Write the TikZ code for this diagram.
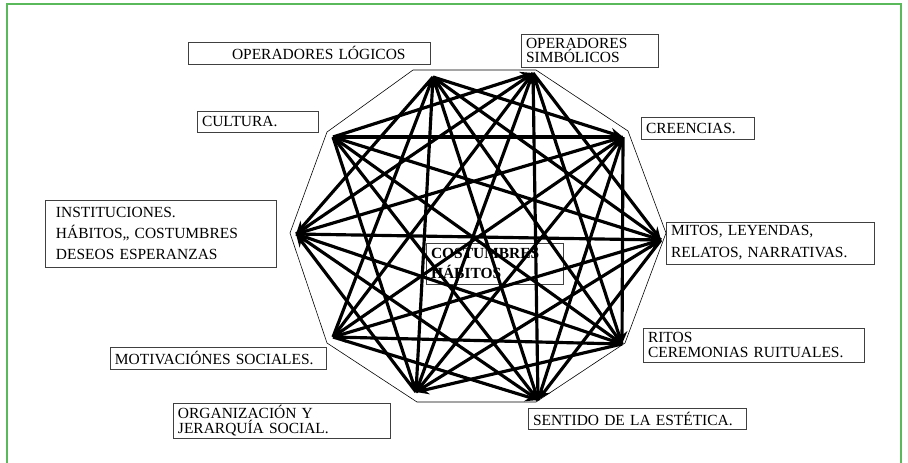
\documentclass[tikz,border=0pt]{standalone}
\usepackage{fontspec}
\setmainfont{Liberation Serif}
\usetikzlibrary{arrows.meta}
\definecolor{framegreen}{RGB}{90,185,90}

\begin{document}
\begin{tikzpicture}[x=0.03cm, y=-0.03cm,
      box/.style={draw=black!75, line width=0.7pt, inner xsep=0.15cm, inner ysep=0pt, align=left, font=\fontsize{13.2}{12}\selectfont},
      link/.style={line width=2.7pt, -{Stealth[length=11pt,width=9pt]}}]

            \useasboundingbox (0,0) rectangle (908,462);
            \draw[framegreen, line width=1.6pt] (7,470) -- (7,4) -- (901,4) -- (901,470); % the green page frame

            % the boxes with the texts
            \node[box, text width=6.96cm, minimum height=0.66cm] (oplogbox) at (309,53) {\hspace*{1.17cm}OPERADORES LÓGICOS};
            \node[box, text width=3.81cm, minimum height=0.99cm, font=\fontsize{13.2}{11}\selectfont] (opsimbox) at (589.5,50.5) {OPERADORES\\SIMBÓLICOS};
            \node[box, text width=3.33cm, minimum height=0.63cm] (cultbox) at (257.5,121.5) {CULTURA.};
            \node[box, text width=3.09cm, minimum height=0.66cm] (creebox) at (697.5,128) {CREENCIAS.};
            \node[box, text width=6.27cm, inner xsep=0.33cm, minimum height=2.01cm, font=\fontsize{13.2}{17.9}\selectfont] (instbox) at (160.5,233.5) {INSTITUCIONES.\\HÁBITOS,, COSTUMBRES\\DESEOS ESPERANZAS};
            \node[box, text width=3.81cm, minimum height=1.23cm, font=\fontsize{13.2}{17}\selectfont\bfseries] (costbox) at (494.5,263.5) {COSTUMBRES\\HÁBITOS};
            \node[box, text width=5.94cm, minimum height=1.26cm, font=\fontsize{13.2}{18.7}\selectfont] (mitobox) at (770,243) {MITOS, LEYENDAS,\\RELATOS, NARRATIVAS.};
            \node[box, text width=6.33cm, minimum height=1.02cm, font=\fontsize{13.2}{12.5}\selectfont] (ritobox) at (753.5,345) {RITOS\\CEREMONIAS RUITUALES.};
            \node[box, text width=6.18cm, minimum height=0.66cm] (motibox) at (218,358) {MOTIVACIÓNES SOCIALES.};
            \node[box, text width=6.21cm, minimum height=1.05cm, font=\fontsize{13.2}{11}\selectfont] (orgabox) at (281.5,420.5) {ORGANIZACIÓN Y\\JERARQUÍA SOCIAL.};
            \node[box, text width=6.24cm, minimum height=0.63cm] (sentbox) at (637,418.5) {SENTIDO DE LA ESTÉTICA.};

            % the thin ten-sided outline
            \draw[line width=0.5pt] (413,70) -- (536,70) -- (628,131) -- (666,233) -- (625,343) -- (536,402) -- (417,402) -- (327,343) -- (290,233) -- (327,132) -- cycle;

            % corners where the arrows meet
            \coordinate (oplog) at (433,77);
            \coordinate (opsim) at (533,73);
            \coordinate (cree) at (623,137);
            \coordinate (mito) at (661,240);
            \coordinate (rito) at (622,344);
            \coordinate (sent) at (538,400);
            \coordinate (orga) at (416,392);
            \coordinate (moti) at (333,337);
            \coordinate (inst) at (296,234);
            \coordinate (cult) at (333,137);

            % arrows from OPERADORES LÓGICOS
            \draw[link] (oplog) -- (cree);
            \draw[link] (mito) -- (oplog);
            \draw[link] (oplog) -- (rito);
            \draw[link] (sent) -- (oplog);
            \draw[link] (oplog) -- (orga);
            \draw[link] (moti) -- (oplog);
            \draw[link] (oplog) -- (inst);
            % arrows from OPERADORES SIMBÓLICOS
            \draw[link] (opsim) -- (mito);
            \draw[link] (rito) -- (opsim);
            \draw[link] (sent) -- (opsim);
            \draw[link] (orga) -- (opsim);
            \draw[link] (opsim) -- (moti);
            \draw[link] (inst) -- (opsim);
            \draw[link] (cult) -- (opsim);
            % arrows from CREENCIAS
            \draw[link] (cree) -- (rito);
            \draw[link] (sent) -- (cree);
            \draw[link] (cree) -- (orga);
            \draw[link] (moti) -- (cree);
            \draw[link] (cree) -- (inst);
            \draw[link] (cult) -- (cree);
            % arrows from MITOS
            \draw[link] (mito) -- (sent);
            \draw[link] (orga) -- (mito);
            \draw[link] (moti) -- (mito);
            \draw[link] (inst) -- (mito);
            \draw[link] (cult) -- (mito);
            % arrows from RITOS
            \draw[link] (rito) -- (orga);
            \draw[link] (rito) -- (moti);
            \draw[link] (inst) -- (rito);
            \draw[link] (cult) -- (rito);
            % the rest
            \draw[link] (moti) -- (sent);
            \draw[link] (sent) -- (inst);
            \draw[link] (cult) -- (sent);
            \draw[link] (orga) -- (inst);
            \draw[link] (cult) -- (orga);
      \end{tikzpicture}
\end{document}
